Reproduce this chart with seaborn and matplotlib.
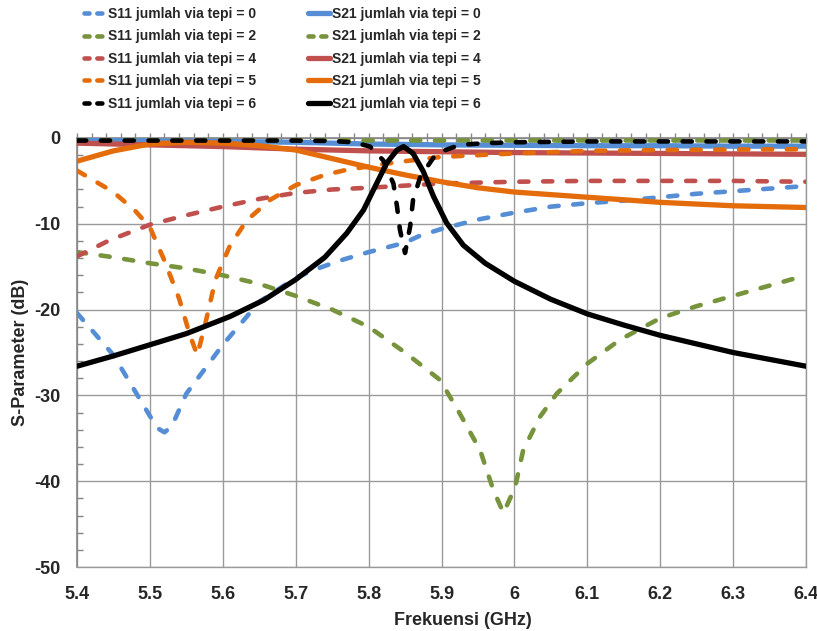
import matplotlib
matplotlib.use("Agg")
import matplotlib.pyplot as plt
import seaborn as sns
from matplotlib.lines import Line2D
from matplotlib.ticker import MultipleLocator, FuncFormatter

# --- data (GHz, dB) ---
f_s11_0 = [5.40, 5.45, 5.50, 5.51, 5.52, 5.53, 5.55, 5.60, 5.65, 5.70, 5.724, 5.76, 5.80, 5.85,
           5.87, 5.90, 5.95, 6.00, 6.05, 6.10, 6.15, 6.20, 6.25, 6.30, 6.35, 6.40]
s11_0 = [-20.4, -25.3, -32.4, -33.8, -34.3, -33.6, -29.8, -24.1, -19.1, -16.3, -15.4, -14.3, -13.3, -12.2,
         -11.4, -10.6, -9.5, -8.7, -8.0, -7.6, -7.3, -6.9, -6.5, -6.2, -5.9, -5.6]

f_s21_0 = [5.40, 5.50, 5.60, 5.70, 5.80, 5.90, 6.00, 6.10, 6.20, 6.30, 6.40]
s21_0 = [-0.3, -0.35, -0.4, -0.5, -0.7, -0.8, -0.85, -0.9, -0.9, -0.95, -0.95]

f_s11_2 = [5.40, 5.45, 5.50, 5.55, 5.60, 5.65, 5.70, 5.75, 5.80, 5.85, 5.898, 5.925, 5.953, 5.971,
           5.985, 6.001, 6.012, 6.035, 6.058, 6.10, 6.145, 6.20, 6.25, 6.30, 6.35, 6.40]
s11_2 = [-13.3, -13.9, -14.6, -15.2, -16.0, -17.0, -18.4, -20.0, -22.0, -25.0, -28.2, -32.1, -36.4, -41.0,
         -43.7, -40.7, -36.4, -32.5, -29.8, -26.3, -23.5, -21.0, -19.6, -18.4, -17.2, -16.0]

f_s21_2 = [5.40, 5.60, 5.80, 6.00, 6.20, 6.40]
s21_2 = [-0.2, -0.2, -0.2, -0.2, -0.2, -0.2]

f_s11_4 = [5.40, 5.445, 5.50, 5.55, 5.60, 5.65, 5.70, 5.75, 5.80, 5.86, 5.90, 6.00, 6.10, 6.20, 6.30, 6.40]
s11_4 = [-13.8, -11.9, -10.1, -9.0, -8.0, -7.1, -6.4, -6.0, -5.8, -5.5, -5.3, -5.1, -5.0, -5.0, -5.0, -5.1]

f_s21_4 = [5.40, 5.50, 5.60, 5.70, 5.80, 5.90, 6.00, 6.20, 6.40]
s21_4 = [-0.6, -0.8, -1.0, -1.3, -1.5, -1.6, -1.7, -1.8, -1.9]

f_s11_5 = [5.40, 5.42, 5.45, 5.48, 5.50, 5.52, 5.54, 5.555, 5.565, 5.575, 5.59, 5.61, 5.633, 5.665,
           5.70, 5.74, 5.77, 5.84, 5.90, 6.00, 6.10, 6.20, 6.30, 6.40]
s11_5 = [-3.8, -4.8, -6.3, -8.5, -10.4, -14.3, -18.7, -23.0, -25.3, -22.0, -16.5, -12.5, -9.6, -7.2,
         -5.5, -4.3, -3.7, -2.8, -2.2, -1.8, -1.5, -1.4, -1.35, -1.3]

f_s21_5 = [5.40, 5.45, 5.50, 5.55, 5.60, 5.65, 5.70, 5.75, 5.80, 5.85, 5.90, 5.95, 6.00, 6.05,
           6.10, 6.15, 6.20, 6.25, 6.30, 6.35, 6.40]
s21_5 = [-2.7, -1.5, -0.7, -0.5, -0.6, -0.9, -1.4, -2.4, -3.4, -4.3, -5.1, -5.8, -6.3, -6.6,
         -6.9, -7.2, -7.5, -7.7, -7.9, -8.0, -8.1]

f_s11_6 = [5.40, 5.50, 5.60, 5.70, 5.75, 5.78, 5.802, 5.82, 5.834, 5.839, 5.843, 5.85, 5.857, 5.861,
           5.871, 5.893, 5.925, 5.96, 6.00, 6.10, 6.20, 6.30, 6.40]
s11_6 = [-0.3, -0.3, -0.3, -0.3, -0.35, -0.5, -1.0, -2.6, -5.3, -8.0, -10.7, -13.4, -10.3, -7.2,
         -4.5, -1.8, -0.8, -0.6, -0.5, -0.4, -0.4, -0.4, -0.4]

f_s21_6 = [5.40, 5.45, 5.50, 5.55, 5.61, 5.656, 5.70, 5.74, 5.77, 5.793, 5.811, 5.825, 5.839, 5.848,
           5.861, 5.875, 5.889, 5.907, 5.93, 5.96, 6.00, 6.05, 6.10, 6.15, 6.20, 6.25, 6.30,
           6.35, 6.40]
s21_6 = [-26.6, -25.4, -24.1, -22.8, -20.8, -18.9, -16.5, -13.9, -11.1, -8.4, -5.3, -2.9, -1.4, -1.0,
         -1.8, -3.9, -6.8, -9.9, -12.5, -14.6, -16.7, -18.8, -20.5, -21.8, -23.0, -24.0, -25.0,
         -25.8, -26.6]

tepi = ["0", "2", "4", "5", "6"]
colors = ["#558ED5", "#77933C", "#C0504D", "#E46C0A", "#000000"]
s11_freqs = [f_s11_0, f_s11_2, f_s11_4, f_s11_5, f_s11_6]
s11_vals = [s11_0, s11_2, s11_4, s11_5, s11_6]
s21_freqs = [f_s21_0, f_s21_2, f_s21_4, f_s21_5, f_s21_6]
s21_vals = [s21_0, s21_2, s21_4, s21_5, s21_6]
s21_dashed = [False, True, False, False, False]

sns.set_theme(style="white")
plt.rcParams["font.family"] = ["Liberation Sans", "DejaVu Sans"]
plt.rcParams["axes.unicode_minus"] = False

leg_size = 10
fs_px = leg_size * 100 / 72

W, H = 817, 631
fig = plt.figure(figsize=(W / 100, H / 100), dpi=100)
ax = fig.add_axes([77 / W, 1 - 567 / H, (806 - 77) / W, (567 - 138) / H])

dash = (0, (2.0, 3.2))
lw_dash, lw_solid = 3.3, 3.8
for i in range(5):
    sns.lineplot(x=s11_freqs[i], y=s11_vals[i], ax=ax, color=colors[i], lw=lw_dash,
                 linestyle=dash, dash_capstyle="round", sort=False, zorder=3)
    sns.lineplot(x=s21_freqs[i], y=s21_vals[i], ax=ax, color=colors[i],
                 lw=lw_dash if s21_dashed[i] else lw_solid,
                 linestyle=dash if s21_dashed[i] else "-", dash_capstyle="round",
                 solid_capstyle="round", solid_joinstyle="round", sort=False, zorder=3)

ax.set_xlim(5.4, 6.4)
ax.set_ylim(-50, 0)
ax.xaxis.set_major_locator(MultipleLocator(0.1))
ax.xaxis.set_minor_locator(MultipleLocator(0.02))
ax.yaxis.set_major_locator(MultipleLocator(10))
ax.yaxis.set_minor_locator(MultipleLocator(2))
ax.xaxis.set_major_formatter(FuncFormatter(lambda v, p: f"{v:g}"))
ax.yaxis.set_major_formatter(FuncFormatter(lambda v, p: f"{v:g}"))

ax.grid(True, which="major", color="#9a9a9a", lw=1)
ax.tick_params(axis="x", which="both", bottom=False, top=True, labelbottom=True,
               labeltop=False, direction="inout", length=7, width=1, color="#868686",
               pad=10, labelsize=13)
ax.tick_params(axis="y", which="major", left=True, length=0, pad=12, labelsize=13)
ax.tick_params(axis="y", which="minor", left=True, direction="in", length=4,
               width=1, color="#868686")
for lab in ax.get_xticklabels() + ax.get_yticklabels():
    lab.set_fontweight("bold")

for side in ["left", "top"]:
    ax.spines[side].set_color("#868686")
    ax.spines[side].set_linewidth(1.2)
for side in ["right", "bottom"]:
    ax.spines[side].set_color("#9a9a9a")
    ax.spines[side].set_linewidth(1)

ax.set_xlabel("Frekuensi (GHz)", fontsize=13, fontweight="bold")
ax.set_ylabel("S-Parameter (dB)", fontsize=13, fontweight="bold")
ax.xaxis.set_label_coords((463 - 77) / 729, -0.105)
ax.yaxis.set_label_coords(-0.066, 0.5)

# legend: column-wise order, short dashes so each key shows two dashes
leg_dash = (0, (1.1, 1.7))
s11_keys = [Line2D([], [], color=c, lw=lw_dash, linestyle=leg_dash, dash_capstyle="round")
            for c in colors]
s21_keys = [Line2D([], [], color=c, lw=lw_dash if d else lw_solid,
                   linestyle=leg_dash if d else "-", dash_capstyle="round",
                   solid_capstyle="round")
            for c, d in zip(colors, s21_dashed)]
labels = [f"S11 jumlah via tepi = {t}" for t in tepi] + [f"S21 jumlah via tepi = {t}" for t in tepi]
fig.legend(s11_keys + s21_keys, labels, ncol=2, loc="upper left",
           bbox_to_anchor=(84 / W, 1 - 7 / H), frameon=False,
           prop=dict(family="Liberation Sans", weight="bold", size=leg_size),
           handlelength=22 / fs_px, handletextpad=0.15,
           columnspacing=52 / fs_px, labelspacing=(24 - 1.12 * fs_px) / fs_px,
           borderpad=0, borderaxespad=0)

fig.savefig("out.png", dpi=100)
